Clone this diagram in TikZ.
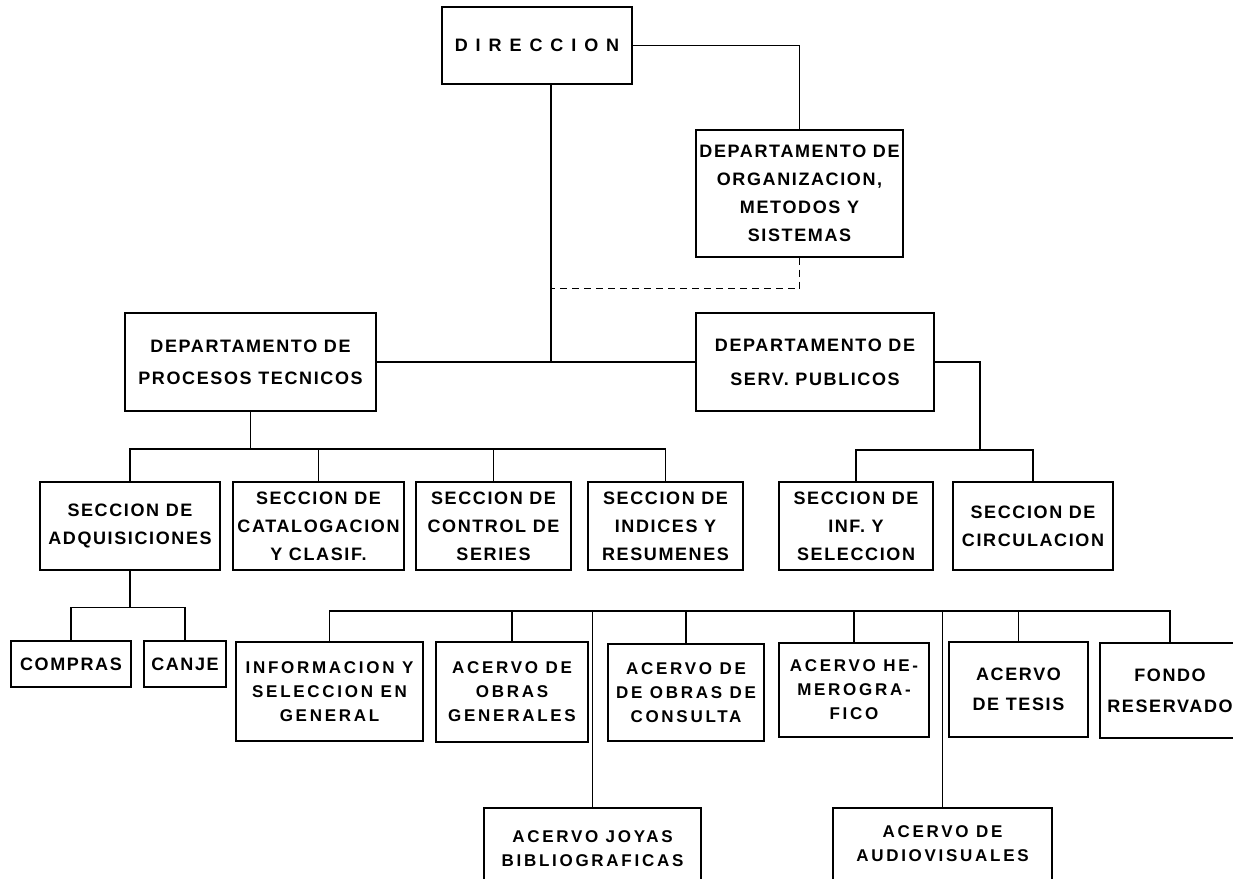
\documentclass[tikz,border=0pt]{standalone}
\usepackage{fontspec}
\usetikzlibrary{calc}
\newfontfamily\chartfont{Liberation Sans}[LetterSpace=9]
\newfontfamily\lowfont{Liberation Sans}[LetterSpace=16]
\tikzset{
 box/.style={draw,line width=1.4pt,align=center,inner sep=1pt,font={\chartfont\bfseries\fontsize{18}{28}\selectfont}},
 lowbox/.style={box,font={\lowfont\bfseries\fontsize{17}{24}\selectfont}},
 link/.style={line width=1.2pt},
 staff/.style={link,dashed,dash pattern=on 7pt off 5pt}
}
\begin{document}
\begin{tikzpicture}[x=1pt,y=-1pt]
\clip (0,0) rectangle (1233,878);
\fill[white] (0,0) rectangle (1233,878);
% top levels
\node[box,minimum width=190,minimum height=77,font={\chartfont\bfseries\fontsize{18}{28}\selectfont\addfontfeatures{LetterSpace=44}}] (dir) at (537,45.5) {DIRECCION};
\node[box,minimum width=207,minimum height=127] (org) at (799.5,193.5) {DEPARTAMENTO DE\\ORGANIZACION,\\METODOS Y\\SISTEMAS};
\node[box,minimum width=251,minimum height=98,font={\chartfont\bfseries\fontsize{18}{32}\selectfont}] (proc) at (250.5,362) {DEPARTAMENTO DE\\PROCESOS TECNICOS};
\node[box,minimum width=238,minimum height=98,font={\chartfont\bfseries\fontsize{18}{34}\selectfont}] (serv) at (815,362) {DEPARTAMENTO DE\\SERV. PUBLICOS};
% sections
\foreach \nm/\cx/\w/\txt in {adq/130/180/{SECCION DE\\ADQUISICIONES},cat/318.5/171/{SECCION DE\\CATALOGACION\\Y CLASIF.},
 ctrl/493.5/155/{SECCION DE\\CONTROL DE\\SERIES},ind/665.5/155/{SECCION DE\\INDICES Y\\RESUMENES},
 inf/856/154/{SECCION DE\\INF. Y\\SELECCION},circ/1033/160/{SECCION DE\\CIRCULACION}}
 \node[box,minimum width=\w,minimum height=88] (\nm) at (\cx,526) {\txt};
\node[box,minimum width=120,minimum height=46] (comp) at (71,664) {COMPRAS};
\node[box,minimum width=82,minimum height=46] (canje) at (185,664) {CANJE};
% acervos
\foreach \nm/\cx/\cy/\w/\h/\txt in {infgen/329.5/691.5/187/99/{INFORMACION Y\\SELECCION EN\\GENERAL},
 obras/512/692/152/100/{ACERVO DE\\OBRAS\\GENERALES},cons/686/692.5/156/97/{ACERVO DE\\DE OBRAS DE\\CONSULTA},
 hemer/854/690/150/94/{ACERVO HE-\\MEROGRA-\\FICO},joyas/592.5/849/217/82/{ACERVO JOYAS\\BIBLIOGRAFICAS},
 audio/942.5/844/219/72/{ACERVO DE\\AUDIOVISUALES}}
 \node[lowbox,minimum width=\w,minimum height=\h] (\nm) at (\cx,\cy) {\txt};
\node[box,minimum width=139,minimum height=95,font={\chartfont\bfseries\fontsize{18}{30}\selectfont}] (tesis) at (1018.5,689.5) {ACERVO\\DE TESIS};
\node[box,minimum width=140,minimum height=95,font={\chartfont\bfseries\fontsize{18}{31}\selectfont}] (fondo) at (1170,690.5) {FONDO\\RESERVADO};
% connectors
\coordinate (trunk) at ($(dir.south)+(14,0)$);
\draw[link] (trunk) -- (trunk |- proc.east);
\draw[link] (proc.east) -- (serv.west);
\draw[link] (dir.east) -| (org.north);
\draw[staff] (org.south) |- ($(trunk)+(0,204)$);
\coordinate (pbus) at (254,449);
\draw[link] (proc.south) -- (proc.south |- pbus);
\draw[link] (adq.north) |- (pbus) -| (ind.north);
\foreach \nm in {cat,ctrl} \draw[link] (\nm.north) -- (\nm.north |- pbus);
\coordinate (sbus) at (980,450);
\draw[link] (serv.east) -| (sbus);
\draw[link] (inf.north) |- (sbus) -| (circ.north);
\draw[link] (adq.south) -- ++(0,37) coordinate (abus);
\draw[link] (comp.north) |- (abus) -| (canje.north);
\coordinate (lbus) at (335,611);
\draw[link] (infgen.north) |- (lbus) -| (fondo.north);
\foreach \nm in {obras,cons,hemer,tesis,joyas,audio} \draw[link] (\nm.north) -- (\nm.north |- lbus);
\end{tikzpicture}
\end{document}
